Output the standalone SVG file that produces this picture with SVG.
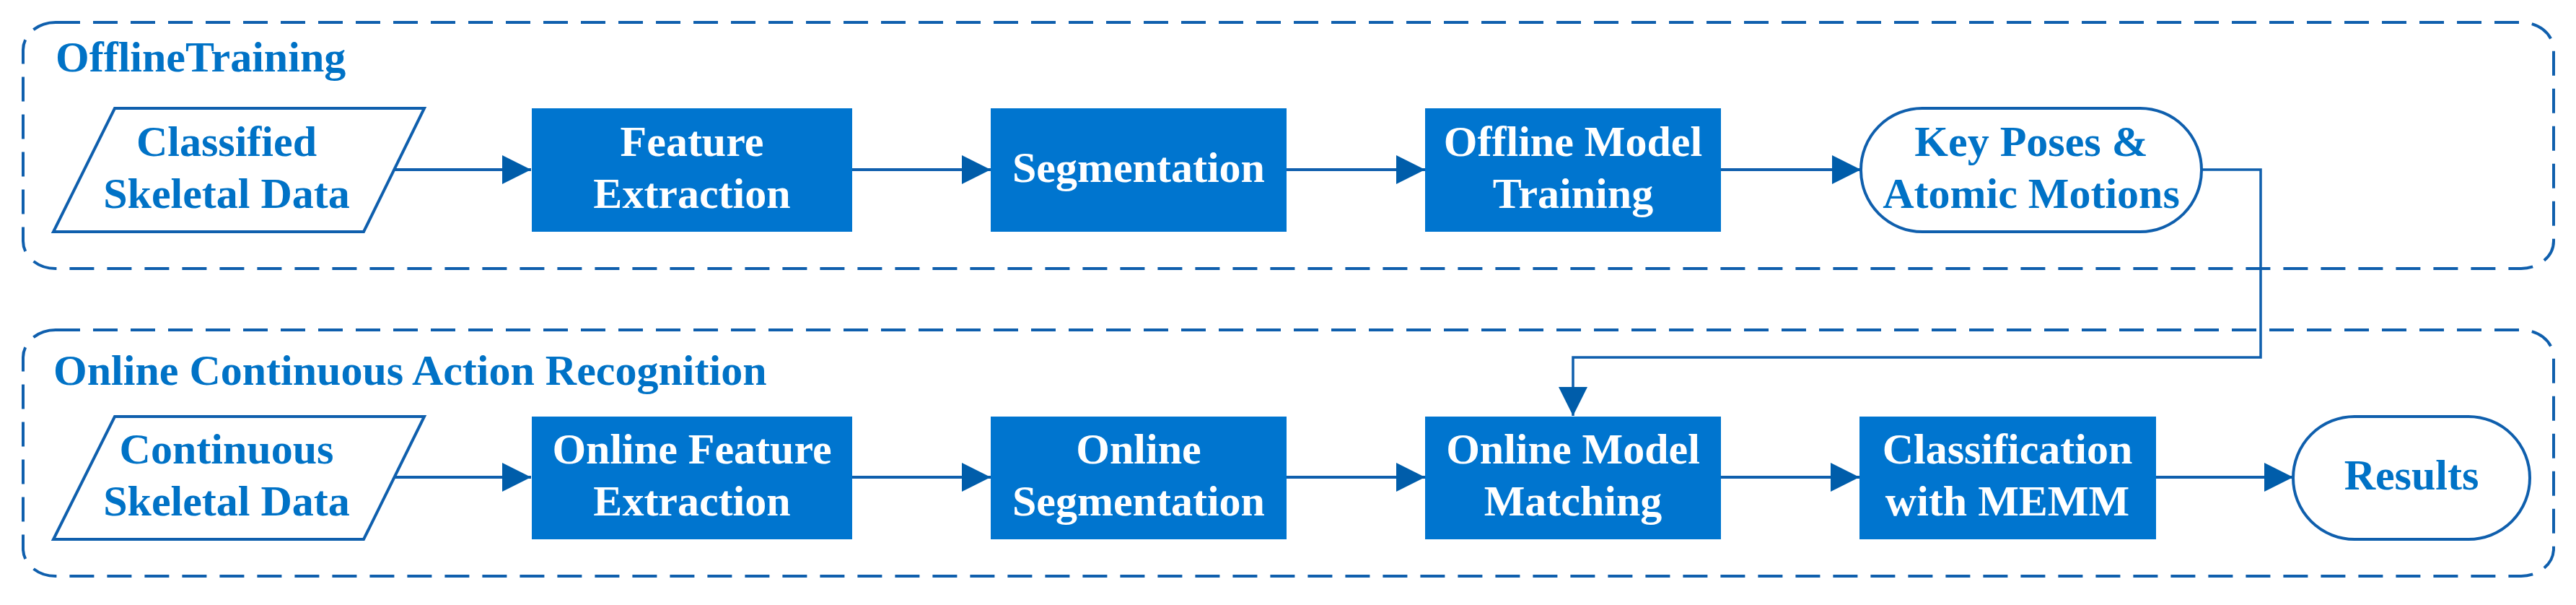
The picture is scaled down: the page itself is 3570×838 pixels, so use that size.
<svg xmlns="http://www.w3.org/2000/svg" width="3570" height="838" viewBox="0 0 3570 838">
<defs>
<style>
.grp{fill:none;stroke:#0F5FAD;stroke-width:4;stroke-dasharray:34 18}
.box{fill:#0075CF}
.out{fill:#FFFFFF;stroke:#0F5FAD;stroke-width:4}
.t{font-family:"Liberation Serif","Times New Roman",serif;font-weight:bold;font-size:60px;text-anchor:middle}
.tw{fill:#FFFFFF}
.tb{fill:#0072C6}
.title{font-family:"Liberation Serif","Times New Roman",serif;font-weight:bold;font-size:60px;fill:#0072C6}
.ln{fill:none;stroke:#0F5FAD;stroke-width:4}
.fb{fill:none;stroke:#0F5FAD;stroke-width:3.5}
</style>
<marker id="ah" markerUnits="userSpaceOnUse" markerWidth="40" markerHeight="40" viewBox="0 0 38 38" refX="38" refY="19" orient="auto">
<path d="M0,0 L38,19 L0,38 z" fill="#005DAA"/>
</marker>
</defs>
<rect width="3570" height="838" fill="#FFFFFF"/>

<g id="group-offline">
<rect class="grp" x="32" y="31" width="3507" height="341" rx="45" ry="38"/>
<text class="title" x="77" y="99">OfflineTraining</text>
</g>
<g id="group-online">
<rect class="grp" x="32" y="457" width="3507" height="341" rx="45" ry="38"/>
<text class="title" x="74" y="533">Online Continuous Action Recognition</text>
</g>

<g id="connectors">
<line class="ln" x1="547" y1="235" x2="736" y2="235" marker-end="url(#ah)"/>
<line class="ln" x1="1181" y1="235" x2="1373" y2="235" marker-end="url(#ah)"/>
<line class="ln" x1="1783" y1="235" x2="1975" y2="235" marker-end="url(#ah)"/>
<line class="ln" x1="2385" y1="235" x2="2579" y2="235" marker-end="url(#ah)"/>
<polyline class="fb" points="3051,235 3133,235 3133,495 2180,495 2180,576" marker-end="url(#ah)"/>
<line class="ln" x1="547" y1="661" x2="736" y2="661" marker-end="url(#ah)"/>
<line class="ln" x1="1181" y1="661" x2="1373" y2="661" marker-end="url(#ah)"/>
<line class="ln" x1="1783" y1="661" x2="1975" y2="661" marker-end="url(#ah)"/>
<line class="ln" x1="2385" y1="661" x2="2577" y2="661" marker-end="url(#ah)"/>
<line class="ln" x1="2988" y1="661" x2="3178" y2="661" marker-end="url(#ah)"/>
</g>

<g id="classified-skeletal-data">
<polygon class="out" points="159,150 588,150 504,321 74,321"/>
<text class="t tb" x="314" y="216">Classified</text>
<text class="t tb" x="314" y="288">Skeletal Data</text>
</g>
<g id="feature-extraction">
<rect class="box" x="737" y="150" width="444" height="171"/>
<text class="t tw" x="959" y="216">Feature</text>
<text class="t tw" x="959" y="288">Extraction</text>
</g>
<g id="segmentation">
<rect class="box" x="1373" y="150" width="410" height="171"/>
<text class="t tw" x="1578" y="252">Segmentation</text>
</g>
<g id="offline-model-training">
<rect class="box" x="1975" y="150" width="410" height="171"/>
<text class="t tw" x="2180" y="216">Offline Model</text>
<text class="t tw" x="2180" y="288">Training</text>
</g>
<g id="key-poses">
<rect class="out" x="2579" y="150" width="472" height="171" rx="85" ry="85"/>
<text class="t tb" x="2815" y="216">Key Poses &amp;</text>
<text class="t tb" x="2815" y="288">Atomic Motions</text>
</g>

<g id="continuous-skeletal-data">
<polygon class="out" points="159,577 588,577 504,747 74,747"/>
<text class="t tb" x="314" y="642">Continuous</text>
<text class="t tb" x="314" y="714">Skeletal Data</text>
</g>
<g id="online-feature-extraction">
<rect class="box" x="737" y="577" width="444" height="170"/>
<text class="t tw" x="959" y="642">Online Feature</text>
<text class="t tw" x="959" y="714">Extraction</text>
</g>
<g id="online-segmentation">
<rect class="box" x="1373" y="577" width="410" height="170"/>
<text class="t tw" x="1578" y="642">Online</text>
<text class="t tw" x="1578" y="714">Segmentation</text>
</g>
<g id="online-model-matching">
<rect class="box" x="1975" y="577" width="410" height="170"/>
<text class="t tw" x="2180" y="642">Online Model</text>
<text class="t tw" x="2180" y="714">Matching</text>
</g>
<g id="classification-memm">
<rect class="box" x="2577" y="577" width="411" height="170"/>
<text class="t tw" x="2782" y="642">Classification</text>
<text class="t tw" x="2782" y="714">with MEMM</text>
</g>
<g id="results">
<rect class="out" x="3178" y="577" width="328" height="170" rx="85" ry="85"/>
<text class="t tb" x="3342" y="678">Results</text>
</g>
</svg>
